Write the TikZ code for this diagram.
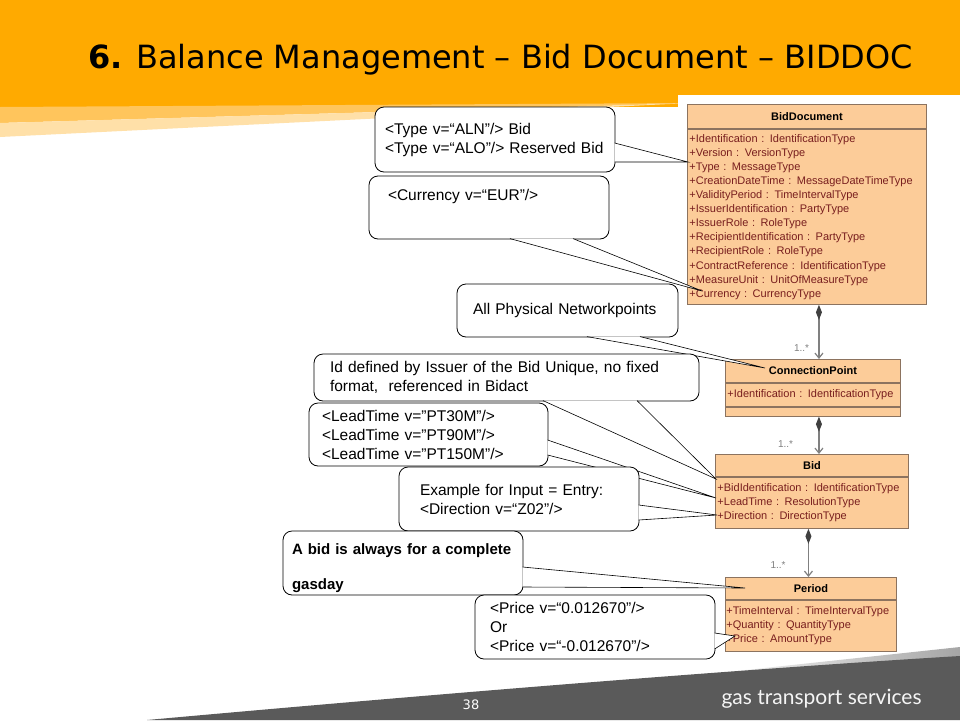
\documentclass[tikz,border=0pt]{standalone}
\usepackage{fontspec}
\setmainfont{Liberation Sans}
\newfontfamily\titlefont{DejaVu Sans}
\newfontfamily\brandfont{Lato}
\usetikzlibrary{calc,arrows.meta}

\definecolor{gtsorange}{RGB}{255,170,0}
\definecolor{gtspeach}{RGB}{255,197,92}
\definecolor{gtspale}{RGB}{255,224,168}
\definecolor{footgray}{RGB}{90,90,90}
\definecolor{umlfill}{RGB}{252,204,153}
\definecolor{umlline}{RGB}{140,115,95}
\definecolor{umltext}{RGB}{120,30,30}

\tikzset{
    memo/.style = {
        draw,
        rounded corners=9pt,
        fill=white,
        line width=0.8pt,
        align=left,
        inner ysep=0pt,
        font=\fontsize{15.5}{19}\selectfont
    },
    pointer/.style = {
        draw,
        fill=white,
        line width=0.6pt,
        line join=miter
    },
    umlhead/.style = {
        draw=umlline,
        fill=umlfill,
        line width=0.9pt,
        anchor=north west,
        inner sep=0pt,
        font=\fontsize{11}{13}\selectfont\bfseries
    },
    umlbody/.style = {
        draw=umlline,
        fill=umlfill,
        line width=0.9pt,
        anchor=north west,
        inner xsep=2pt,
        inner ysep=0pt,
        align=left,
        text=umltext,
        font=\fontsize{11}{14.1}\selectfont
    },
    aggr/.style = {
        draw=gray,
        line width=1.2pt,
        {Diamond[length=15pt,width=6pt,color=darkgray]}-{Straight Barb[length=5pt,width=8pt]}
    },
    mult/.style = {
        text=gray,
        font=\fontsize{10}{12}\selectfont
    },
}

\begin{document}
\begin{tikzpicture}[x=1pt, y=-1pt]
                \useasboundingbox[fill=white] (0,0) rectangle (960,720);

                % header and footer
                \fill[gtsorange] (0,0) rectangle (960,107);
                \fill[gtspeach] (0,107) -- (690,103) -- (0,123) -- cycle;
                \fill[gtspale] (0,123) -- (690,103) -- (0,137) -- cycle;
                \fill[white] (678,95) rectangle (960,108);
                \node[anchor=base west, inner sep=0pt, font=\titlefont\fontsize{32}{36}\selectfont] (title) at (88,68) {\textbf{6.} Balance Management – Bid Document – BIDDOC};
                \shade[left color=white, right color=gray!70] (690,676) -- (960,647) -- (960,660) -- cycle;
                \fill[footgray] (147,720) .. controls (480,690) and (760,668) .. (960,656) -- (960,720) -- cycle;
                \node[text=white, font=\titlefont\fontsize{13}{15}\selectfont] (pageno) at (471,705) {38};
                \node[anchor=base west, text=white!92!gray, font=\brandfont\fontsize{21}{24}\selectfont] (brand) at (718,704) {gas transport services};

                % classes
                \node[umlhead, minimum width=239pt, minimum height=24pt] (bdhead) at (687,104) {BidDocument};
                \node[umlbody, text width=235pt, minimum height=175pt] (bdbody) at (bdhead.south west) {+Identification : IdentificationType\\+Version : VersionType\\+Type : MessageType\\+CreationDateTime : MessageDateTimeType\\+ValidityPeriod : TimeIntervalType\\+IssuerIdentification : PartyType\\+IssuerRole : RoleType\\+RecipientIdentification : PartyType\\+RecipientRole : RoleType\\+ContractReference : IdentificationType\\+MeasureUnit : UnitOfMeasureType\\+Currency : CurrencyType};
                \node[umlhead, minimum width=175pt, minimum height=23pt] (cphead) at (725,359) {ConnectionPoint};
                \node[umlbody, text width=171pt, minimum height=23pt] (cpbody) at (cphead.south west) {+Identification : IdentificationType};
                \node[umlbody, text width=171pt, minimum height=9pt] (cpops) at (cpbody.south west) {};
                \node[umlhead, minimum width=193pt, minimum height=22pt] (bidhead) at (715,454) {Bid};
                \node[umlbody, text width=189pt, minimum height=51pt] (bidbody) at (bidhead.south west) {+BidIdentification : IdentificationType\\+LeadTime : ResolutionType\\+Direction : DirectionType};
                \node[umlhead, minimum width=171pt, minimum height=22pt] (perhead) at (725,577) {Period};
                \node[umlbody, text width=169pt, inner xsep=1pt, minimum height=51pt] (perbody) at (perhead.south west) {+TimeInterval : TimeIntervalType\\+Quantity : QuantityType\\+Price : AmountType};

                \coordinate (bdfoot) at ([xshift=12pt]bdbody.south);
                \coordinate (cpfoot) at ([xshift=6pt]cpops.south);
                \coordinate (bidfoot) at ([xshift=-3.5pt]bidbody.south);
                \path[aggr] (bdfoot) -- (bdfoot |- cphead.north) node[mult, pos=0.8, left=6pt] {1..*};
                \path[aggr] (cpfoot) -- (cpfoot |- bidhead.north) node[mult, pos=0.72, left=22pt] {1..*};
                \path[aggr] (bidfoot) -- (bidfoot |- perhead.north) node[mult, pos=0.76, left=19pt] {1..*};

                % callout tips
                \coordinate (typetip) at (688,162);
                \coordinate (curtip) at (702,291);
                \coordinate (nettip) at (765,368);
                \coordinate (idtip) at (716,479);
                \coordinate (leadtip) at (716,498);
                \coordinate (dirtip) at (717,515);
                \coordinate (gastip) at (745,588);
                \coordinate (pricetip) at (735,636);

                % callouts
                \node[memo, text width=220pt, inner xsep=10pt, minimum height=65pt] (typememo) at (495,139.5) {<Type v=“ALN"/> Bid\\<Type v=“ALO"/> Reserved Bid};
                \path[pointer] ($(typememo.east)+(-0.8,3.5)$) -- (typetip) -- ($(typememo.east)+(-0.8,22.5)$);
                \node[memo, text width=202pt, inner xsep=19pt, minimum height=63pt] (curmemo) at (489,207.5) {<Currency v=“EUR"/>\\ \strut};
                \path[pointer] ($(curmemo.south)+(21,-0.8)$) -- (curtip) -- ($(curmemo.south)+(84,-0.8)$);
                \node[memo, text width=189pt, inner xsep=16pt, minimum height=53pt] (netmemo) at (567.5,310.5) {All Physical Networkpoints};
                \path[pointer] ($(netmemo.south)+(19.5,-0.8)$) -- (nettip) -- ($(netmemo.south)+(72.5,-0.8)$);
                \node[memo, text width=353pt, inner xsep=16pt, minimum height=47pt] (idmemo) at (506.5,377.5) {Id defined by Issuer of the Bid Unique, no fixed\\format,\ \ referenced in Bidact};
                \path[pointer] ($(idmemo.south)+(36.5,-0.8)$) -- (idtip) -- ($(idmemo.south)+(130.5,-0.8)$);
                \node[memo, text width=213pt, inner xsep=13pt, minimum height=63pt] (leadmemo) at (428.5,434.5) {<LeadTime v="PT30M"/>\\<LeadTime v="PT90M"/>\\<LeadTime v="PT150M"/>};
                \path[pointer] ($(leadmemo.east)+(-0.8,5.5)$) -- (leadtip) -- ($(leadmemo.east)+(-0.8,20.5)$);
                \node[memo, text width=198pt, inner xsep=21pt, minimum height=64pt] (dirmemo) at (519,499) {Example for Input = Entry:\\<Direction v=“Z02"/>};
                \path[pointer] ($(dirmemo.east)+(-0.8,6)$) -- (dirtip) -- ($(dirmemo.east)+(-0.8,21)$);
                \node[memo, text width=222pt, inner xsep=9pt, minimum height=64pt, font=\fontsize{15}{17}\selectfont\bfseries] (gasmemo) at (403,563) {\rule{0pt}{22pt}A bid is always for a complete\\[18pt]gasday};
                \path[pointer] ($(gasmemo.east)+(-0.8,4)$) -- (gastip) -- ($(gasmemo.east)+(-0.8,24)$);
                \node[memo, text width=210pt, inner xsep=15pt, minimum height=64pt] (pricememo) at (595,627) {<Price v=“0.012670"/>\\Or\\<Price v=“-0.012670"/>};
                \path[pointer] ($(pricememo.east)+(-0.8,6)$) -- (pricetip) -- ($(pricememo.east)+(-0.8,22)$);
\end{tikzpicture}
\end{document}
